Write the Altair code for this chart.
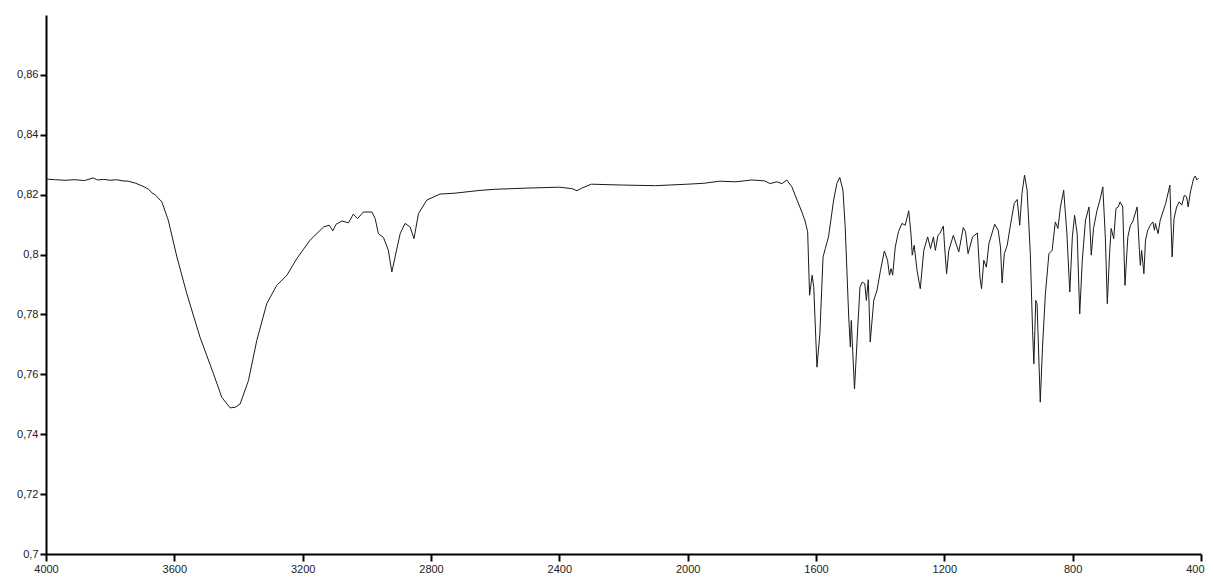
import altair as alt
import pandas as pd

# Wavenumbers (cm-1)
wavenumber = [
    4000, 3970, 3940, 3910, 3880, 3853, 3840, 3820, 3800, 3780, 3760, 3744, 3720, 3698,
    3680, 3670, 3660, 3639, 3619, 3592, 3561, 3520, 3478, 3452, 3426, 3410, 3395, 3369,
    3343, 3312, 3281, 3249, 3218, 3177, 3135, 3117, 3106, 3096, 3078, 3057, 3042, 3029,
    3011, 2984, 2974, 2964, 2948, 2933, 2922, 2912, 2896, 2881, 2865, 2853, 2839, 2813,
    2772, 2725, 2650, 2600, 2500, 2400, 2360, 2345, 2330, 2300, 2200, 2100, 2000, 1950,
    1900, 1850, 1800, 1760, 1743, 1722, 1706, 1691, 1675, 1659, 1644, 1634, 1626, 1620,
    1612, 1607, 1597, 1588, 1578, 1571, 1561, 1545, 1535, 1526, 1516, 1509, 1498, 1493,
    1490, 1480, 1472, 1463, 1456, 1448, 1443, 1437, 1431, 1420, 1410, 1399, 1387, 1377,
    1371, 1366, 1361, 1353, 1343, 1332, 1322, 1311, 1304, 1300, 1294, 1285, 1275, 1264,
    1252, 1243, 1234, 1228, 1220, 1214, 1203, 1199, 1193, 1186, 1172, 1155, 1141, 1134,
    1126, 1112, 1097, 1089, 1084, 1077, 1069, 1061, 1043, 1032, 1025, 1020, 1013, 1004,
    994, 982, 973, 965, 958, 950, 942, 932, 925, 921, 915, 911, 901, 894,
    885, 874, 864, 854, 846, 838, 828, 818, 809, 801, 794, 786, 778, 770,
    760, 749, 742, 735, 724, 715, 706, 698, 692, 685, 680, 672, 665, 658,
    652, 644, 637, 628, 620, 613, 599, 592, 589, 585, 578, 573, 566, 558,
    550, 545, 542, 534, 527, 510, 497, 493, 490, 484, 476, 468, 460, 452,
    445, 440, 433, 423, 418, 413, 408,
]

# Transmittance values
transmittance = [
    0.8252, 0.8250, 0.8248, 0.8250, 0.8247, 0.8256, 0.8249, 0.8251, 0.8248, 0.8250, 0.8246, 0.8245, 0.8238, 0.8228,
    0.8218, 0.8206, 0.8200, 0.8176, 0.8115, 0.7992, 0.7869, 0.7724, 0.7602, 0.7523, 0.7488, 0.7490, 0.7501, 0.7579,
    0.7713, 0.7836, 0.7897, 0.7931, 0.7987, 0.8048, 0.8092, 0.8098, 0.8079, 0.8101, 0.8112, 0.8106, 0.8135, 0.8120,
    0.8142, 0.8142, 0.8120, 0.8070, 0.8057, 0.8014, 0.7942, 0.7992, 0.8070, 0.8104, 0.8092, 0.8053, 0.8137, 0.8182,
    0.8202, 0.8205, 0.8214, 0.8218, 0.8222, 0.8225, 0.8220, 0.8213, 0.8222, 0.8235, 0.8232, 0.8230, 0.8235, 0.8238,
    0.8245, 0.8243, 0.8249, 0.8246, 0.8237, 0.8243, 0.8237, 0.8249, 0.8226, 0.8182, 0.8142, 0.8112, 0.8076, 0.7864,
    0.7931, 0.7891, 0.7624, 0.7735, 0.7992, 0.8020, 0.8059, 0.8182, 0.8237, 0.8258, 0.8215, 0.8092, 0.7791, 0.7691,
    0.7780, 0.7551, 0.7713, 0.7891, 0.7908, 0.7903, 0.7847, 0.7916, 0.7708, 0.7847, 0.7880, 0.7947, 0.8012, 0.7981,
    0.7931, 0.7953, 0.7931, 0.8025, 0.8076, 0.8104, 0.8098, 0.8146, 0.8070, 0.7998, 0.8031, 0.7947, 0.7886, 0.8014,
    0.8059, 0.8020, 0.8059, 0.8014, 0.8064, 0.8070, 0.8095, 0.8025, 0.7936, 0.8014, 0.8064, 0.8009, 0.8090, 0.8076,
    0.8003, 0.8059, 0.8072, 0.7925, 0.7886, 0.7981, 0.7958, 0.8037, 0.8101, 0.8081, 0.8025, 0.7905, 0.8003, 0.8031,
    0.8098, 0.8171, 0.8184, 0.8098, 0.8204, 0.8265, 0.8215, 0.8003, 0.7747, 0.7635, 0.7847, 0.7836, 0.7507, 0.7691,
    0.7869, 0.8003, 0.8014, 0.8109, 0.8087, 0.8159, 0.8215, 0.8070, 0.7875, 0.8059, 0.8131, 0.8070, 0.7802, 0.7981,
    0.8115, 0.8159, 0.7998, 0.8087, 0.8148, 0.8182, 0.8226, 0.8053, 0.7836, 0.8003, 0.8087, 0.8053, 0.8154, 0.8159,
    0.8176, 0.8159, 0.7897, 0.8059, 0.8098, 0.8109, 0.8159, 0.8014, 0.7964, 0.8014, 0.7936, 0.8048, 0.8081, 0.8098,
    0.8109, 0.8081, 0.8104, 0.8070, 0.8115, 0.8171, 0.8232, 0.8092, 0.7992, 0.8120, 0.8159, 0.8176, 0.8165, 0.8198,
    0.8193, 0.8159, 0.8209, 0.8254, 0.8262, 0.8249, 0.8255,
]

x_ticks = [4000, 3600, 3200, 2800, 2400, 2000, 1600, 1200, 800, 400]
y_ticks = [0.70, 0.72, 0.74, 0.76, 0.78, 0.80, 0.82, 0.84, 0.86]

df = pd.DataFrame({"wn": wavenumber, "t": transmittance})

chart = (
    alt.Chart(df)
    .mark_line(color="#1a1a1a", strokeWidth=1)
    .encode(
        x=alt.X(
            "wn:Q",
            scale=alt.Scale(domain=[400, 4000], reverse=True, nice=False, zero=False),
            axis=alt.Axis(
                values=x_ticks, format="d", title=None, grid=False,
                tickSize=7, labelPadding=2, labelFlush=False,
                labelAlign={"condition": {"test": "datum.value == 400", "value": "right"}, "value": "center"},
                labelOffset={"condition": {"test": "datum.value == 400", "value": 3}, "value": 0},
            ),
        ),
        y=alt.Y(
            "t:Q",
            scale=alt.Scale(domain=[0.70, 0.88], nice=False, zero=False),
            axis=alt.Axis(
                values=y_ticks, title=None, grid=False, tickSize=6, labelPadding=2,
                labelExpr="replace(format(datum.value, '.2~f'), '.', ',')",
            ),
        ),
        order="wn:Q",
    )
    .properties(
        width=1155,
        height=539,
        autosize=alt.AutoSizeParams(type="none"),
        padding={"left": 38, "top": 7, "right": 4, "bottom": 20},
    )
    .configure_view(stroke=None)
    .configure_axis(
        domainColor="#000000",
        domainWidth=2,
        tickColor="#000000",
        tickWidth=2,
        labelFont="Liberation Sans",
        labelFontSize=11,
        labelColor="#222222",
    )
)

chart.save("out.html", embed_options={"renderer": "svg", "actions": False})
